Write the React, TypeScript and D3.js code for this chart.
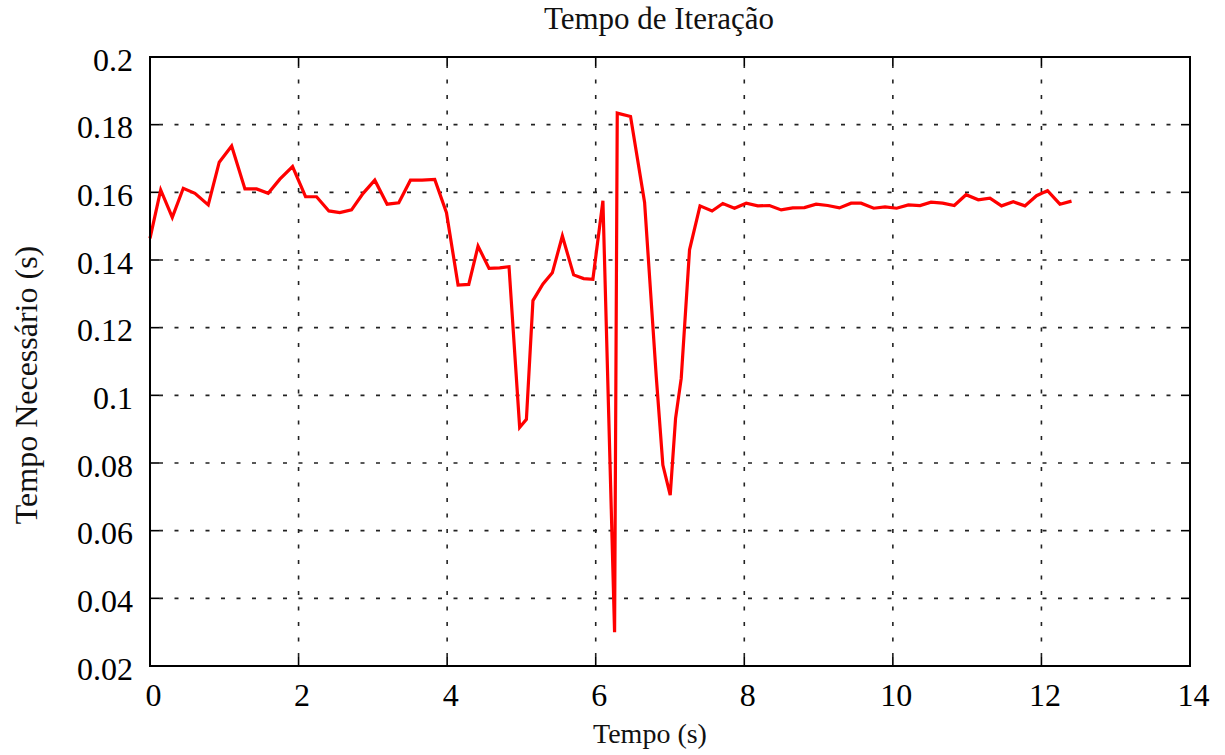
import React from "react";
import * as d3 from "d3";

const timeValues: number[] = [
  0, 0.144, 0.3, 0.448, 0.605, 0.784, 0.932, 1.099, 1.278, 1.435,
  1.591, 1.748, 1.919, 2.094, 2.242, 2.408, 2.555, 2.713, 2.869, 3.026,
  3.192, 3.349, 3.506, 3.662, 3.833, 3.991, 4.147, 4.291, 4.416, 4.564,
  4.707, 4.833, 4.976, 5.067, 5.155, 5.29, 5.416, 5.551, 5.703, 5.837,
  5.962, 6.097, 6.254, 6.29, 6.469, 6.658, 6.815, 6.904, 7.003, 7.075,
  7.151, 7.263, 7.404, 7.566, 7.711, 7.868, 8.026, 8.182, 8.339, 8.497,
  8.652, 8.81, 8.967, 9.123, 9.28, 9.438, 9.572, 9.742, 9.895, 10.051,
  10.209, 10.366, 10.514, 10.67, 10.827, 10.985, 11.15, 11.307, 11.463, 11.621,
  11.778, 11.934, 12.082, 12.249, 12.405,
];

const iterationTimes: number[] = [
  0.1464, 0.1607, 0.1526, 0.1612, 0.1597, 0.1563, 0.1689, 0.1737, 0.161, 0.161,
  0.1597, 0.1639, 0.1676, 0.1587, 0.1587, 0.1545, 0.154, 0.1548, 0.1597, 0.1636,
  0.1565, 0.1569, 0.1636, 0.1636, 0.1638, 0.154, 0.1326, 0.1328, 0.1441, 0.1375,
  0.1377, 0.138, 0.0905, 0.0929, 0.128, 0.1329, 0.1362, 0.1471, 0.1356, 0.1345,
  0.1343, 0.1575, 0.03, 0.1834, 0.1824, 0.157, 0.1055, 0.0794, 0.0705, 0.0932,
  0.105, 0.143, 0.156, 0.1545, 0.1567, 0.1553, 0.1568, 0.156, 0.1561, 0.1548,
  0.1554, 0.1555, 0.1565, 0.1561, 0.1554, 0.1568, 0.1568, 0.1553, 0.1557, 0.1553,
  0.1563, 0.1561, 0.1571, 0.1568, 0.1561, 0.1593, 0.1578, 0.1583, 0.156, 0.1572,
  0.156, 0.159, 0.1605, 0.1565, 0.1574,
];

const xTicks: number[] = [0, 2, 4, 6, 8, 10, 12, 14];
const yTicks: number[] = [0.02, 0.04, 0.06, 0.08, 0.1, 0.12, 0.14, 0.16, 0.18, 0.2];

const titleText = "Tempo de Iteração";
const xLabelText = "Tempo (s)";
const yLabelText = "Tempo Necessário (s)";

const W = 1225;
const H = 755;
const left = 150;
const right = 1190;
const top = 57;
const bottom = 666;
const FONT = "'Liberation Serif', 'Times New Roman', serif";

export default function App() {
  const x = d3.scaleLinear().domain([0, 14]).range([left, right]);
  const y = d3.scaleLinear().domain([0.02, 0.2]).range([bottom, top]);
  const points: [number, number][] = timeValues.map((t, i) => [t, iterationTimes[i]]);
  const line = d3
    .line<[number, number]>()
    .x((d) => x(d[0]))
    .y((d) => y(d[1]));
  const tickLen = 9;
  const dash = "4,11.5";
  const fmtY = (v: number) => String(+v.toFixed(2));

  return (
    <svg
      width={W}
      height={H}
      style={{ position: "absolute", left: 0, top: 0, background: "#fff" }}
      fontFamily={FONT}
    >
      <rect x={0} y={0} width={W} height={H} fill="#fff" />
      {/* grid */}
      {xTicks.slice(1, -1).map((t) => (
        <line
          key={"gx" + t}
          x1={x(t)}
          x2={x(t)}
          y1={bottom - tickLen}
          y2={top + tickLen}
          stroke="#222"
          strokeWidth={1.6}
          strokeDasharray={dash}
        />
      ))}
      {yTicks.slice(1, -1).map((t) => (
        <line
          key={"gy" + t}
          x1={left + tickLen}
          x2={right - tickLen}
          y1={y(t)}
          y2={y(t)}
          stroke="#222"
          strokeWidth={1.6}
          strokeDasharray={dash}
        />
      ))}
      {/* ticks */}
      {xTicks.map((t) => (
        <g key={"tx" + t}>
          <line x1={x(t)} x2={x(t)} y1={bottom} y2={bottom - tickLen} stroke="#000" strokeWidth={1.6} />
          <line x1={x(t)} x2={x(t)} y1={top} y2={top + tickLen} stroke="#000" strokeWidth={1.6} />
        </g>
      ))}
      {yTicks.map((t) => (
        <g key={"ty" + t}>
          <line x1={left} x2={left + tickLen} y1={y(t)} y2={y(t)} stroke="#000" strokeWidth={1.6} />
          <line x1={right} x2={right - tickLen} y1={y(t)} y2={y(t)} stroke="#000" strokeWidth={1.6} />
        </g>
      ))}
      {/* data line */}
      <path d={line(points) || ""} fill="none" stroke="#ff0000" strokeWidth={3.2} strokeLinejoin="miter" />
      {/* frame */}
      <rect x={left} y={top} width={right - left} height={bottom - top} fill="none" stroke="#000" strokeWidth={2} />
      {/* tick labels */}
      {xTicks.map((t) => (
        <text key={"lx" + t} x={x(t) + 3.5} y={706} fontSize={32} textAnchor="middle" fill="#000">
          {t}
        </text>
      ))}
      {yTicks.map((t) => (
        <text key={"ly" + t} x={133} y={y(t) + 13.5} fontSize={32} textAnchor="end" fill="#000">
          {fmtY(t)}
        </text>
      ))}
      {/* titles */}
      <text x={659} y={29} fontSize={31} textAnchor="middle" fill="#111">
        {titleText}
      </text>
      <text x={650} y={743} fontSize={28} textAnchor="middle" fill="#111">
        {xLabelText}
      </text>
      <text
        transform={`translate(37, 385) rotate(-90)`}
        fontSize={32}
        textAnchor="middle"
        fill="#111"
      >
        {yLabelText}
      </text>
    </svg>
  );
}
